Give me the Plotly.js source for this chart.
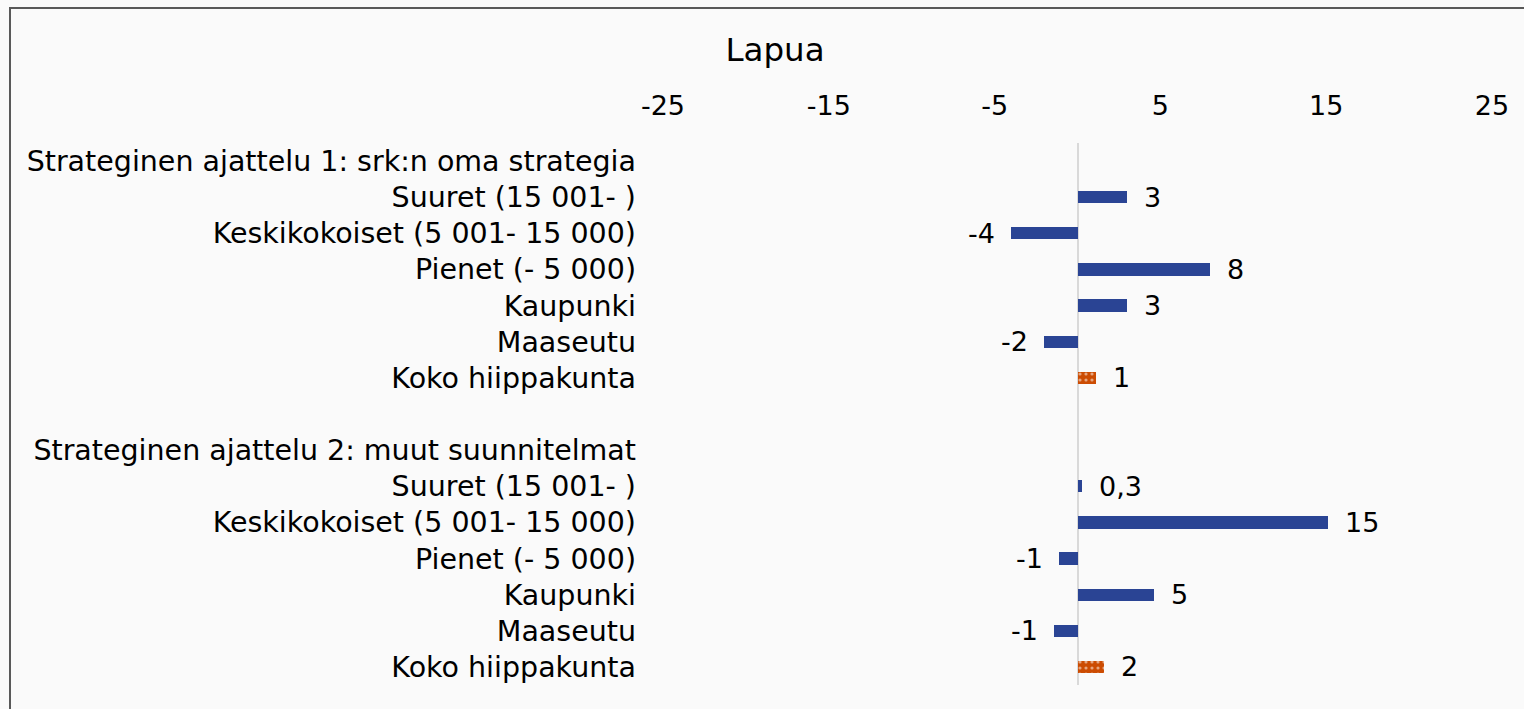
<!DOCTYPE html>
<html>
<head>
<meta charset="utf-8">
<script src="https://cdn.plot.ly/plotly-3.0.1.min.js"></script>
<style>
  html, body { margin: 0; padding: 0; background: #fafafa; }
  #wrap { position: relative; width: 1524px; height: 709px; overflow: hidden; }
  #chart { position: absolute; left: 0; top: 0; width: 1524px; height: 709px; }
  #frame { position: absolute; left: 9px; top: 7px; width: 1530px; height: 720px;
           border: 2px solid #595959; box-sizing: border-box; pointer-events: none; }
</style>
</head>
<body>
<div id="wrap">
  <div id="chart"></div>
  <div id="frame"></div>
</div>
<script>
// ---- data ----
const rowLabels = [
  "Strateginen ajattelu 1: srk:n oma strategia",
  "Suuret (15 001- )",
  "Keskikokoiset (5 001- 15 000)",
  "Pienet (- 5 000)",
  "Kaupunki",
  "Maaseutu",
  "Koko hiippakunta",
  "",
  "Strateginen ajattelu 2: muut suunnitelmat",
  "Suuret (15 001- )",
  "Keskikokoiset (5 001- 15 000)",
  "Pienet (- 5 000)",
  "Kaupunki",
  "Maaseutu",
  "Koko hiippakunta"
];
const values = [null, 3.0, -4.0, 8.0, 3.0, -2.0, 1.1, null, null, 0.3, 15.1, -1.1, 4.6, -1.4, 1.6];
const valueLabels = ["", "3", "-4", "8", "3", "-2", "1", "", "", "0,3", "15", "-1", "5", "-1", "2"];
const isTotal = [false, false, false, false, false, false, true, false, false, false, false, false, false, false, true];
const xTicks = [-25, -15, -5, 5, 15, 25];
const chartTitle = "Lapua";

const blue = "#2a4494";
const orange = "#cc4c02";
const font = "DejaVu Sans, Verdana, sans-serif";
const fs = 27;

const idx = rowLabels.map((_, i) => i);
const groupY = [], groupX = [], totY = [], totX = [];
idx.forEach(i => {
  if (values[i] === null) return;
  if (isTotal[i]) { totY.push(i); totX.push(values[i]); }
  else { groupY.push(i); groupX.push(values[i]); }
});

const traces = [
  { type: "bar", orientation: "h", y: groupY, x: groupX, width: 0.34,
    marker: { color: blue }, hoverinfo: "none", showlegend: false },
  { type: "bar", orientation: "h", y: totY, x: totX, width: 0.34,
    marker: { color: orange, pattern: { shape: ".", fillmode: "overlay", fgcolor: "#ffffff", size: 6, solidity: 0.22 } },
    hoverinfo: "none", showlegend: false }
];

const annotations = [];
idx.forEach(i => {
  if (values[i] === null) return;
  const pos = values[i] >= 0;
  annotations.push({
    x: values[i], y: i, xref: "x", yref: "y", text: valueLabels[i], showarrow: false,
    xanchor: pos ? "left" : "right", yanchor: "middle", xshift: pos ? 15 : -14,
    font: { family: font, size: fs, color: "#000" }
  });
});

const layout = {
  width: 1524, height: 709,
  paper_bgcolor: "rgba(0,0,0,0)", plot_bgcolor: "rgba(0,0,0,0)",
  margin: { l: 663, r: 32, t: 143, b: 24 },
  font: { family: font, size: fs, color: "#000" },
  title: { text: chartTitle, x: 775 / 1524, xref: "container", xanchor: "center",
           y: 1 - 50 / 709, yref: "container", yanchor: "middle",
           font: { family: font, size: 32.5, color: "#000" } },
  bargap: 0,
  xaxis: {
    side: "top", range: [-25, 25], tickvals: xTicks, ticktext: xTicks.map(String),
    showgrid: false, zeroline: true, zerolinecolor: "#d9d9d9", zerolinewidth: 2,
    showline: false, ticks: "", ticklabelstandoff: 22, fixedrange: true,
    tickfont: { family: font, size: fs, color: "#000" }
  },
  yaxis: {
    range: [rowLabels.length - 0.5, -0.5], tickvals: idx, ticktext: rowLabels,
    showgrid: false, zeroline: false, showline: false, ticks: "", ticklabelstandoff: 26,
    fixedrange: true, tickfont: { family: font, size: 28.5, color: "#000" }
  },
  annotations: annotations
};

Plotly.newPlot("chart", traces, layout, { displayModeBar: false, staticPlot: true });
</script>
</body>
</html>
